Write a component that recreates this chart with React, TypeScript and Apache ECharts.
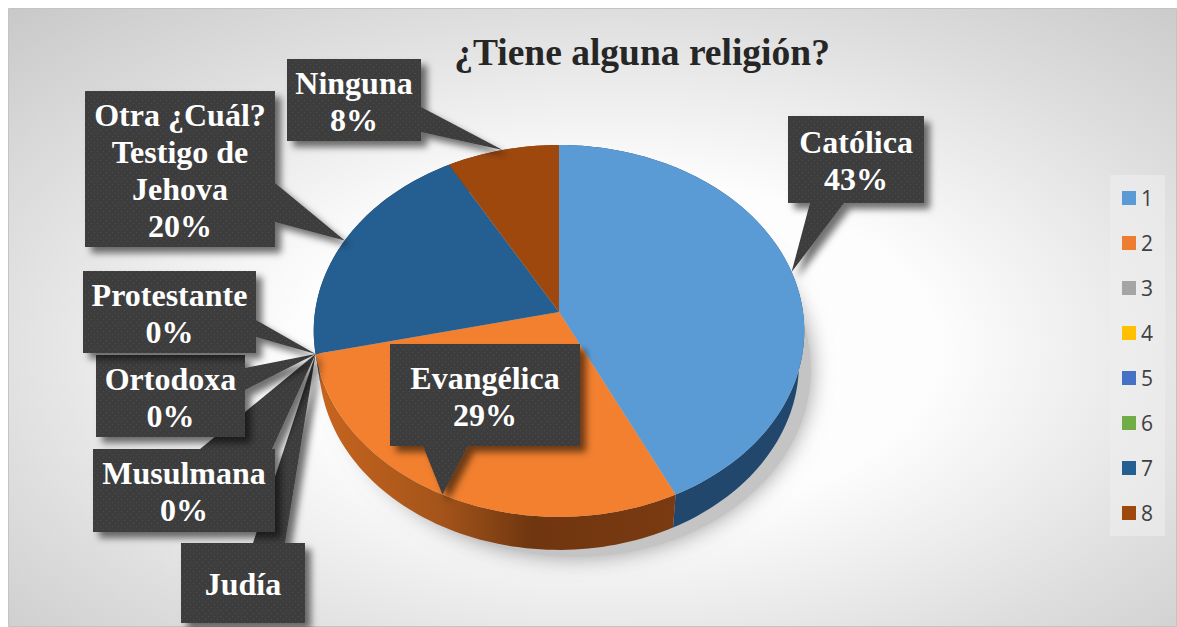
import React, { useEffect, useRef } from "react";
import * as echarts from "echarts";

const legendNames = ["1", "2", "3", "4", "5", "6", "7", "8"];
const responses = [21, 14, 0, 0, 0, 0, 10, 4];
const sliceColors = ["#5b9bd5", "#ed7d31", "#a5a5a5", "#ffc000", "#4472c4", "#70ad47", "#255e91", "#9e480e"];
const labelNames = [
  "Católica",
  "Evangélica",
  "Protestante",
  "Ortodoxa",
  "Musulmana",
  "Judía",
  "Otra ¿Cuál?\nTestigo de\nJehova",
  "Ninguna",
];
const showPercent = [true, true, true, true, true, false, true, true];
const titleText = "¿Tiene alguna religión?";

// Callout layout: box [left, top, right, bottom], tail side, tail base from / to
const calloutLayout: [number, number, number, number, string, number, number][] = [
  [788, 116, 924, 203, "bottom", 810, 844],
  [390, 344, 580, 446, "bottom", 423, 468],
  [83, 271, 256, 353, "right", 320, 337],
  [96, 355, 245, 437, "right", 368, 390],
  [93, 449, 275, 532, "top", 200, 272],
  [181, 543, 305, 623, "top", 253, 285],
  [85, 91, 275, 247, "right", 183, 222],
  [287, 59, 421, 141, "right", 107, 132],
];

const HUB_X = 559;
const HUB_Y = 312;
const RX = 244;
const RY = 184;
const PERSP = 0.102;
const DEPTH = 33;

const total = responses.reduce((a, b) => a + b, 0);

function rim(fraction: number): [number, number] {
  const t = fraction * Math.PI * 2;
  const u = Math.sin(t);
  const v = -Math.cos(t);
  const w = 1 - PERSP * v;
  return [HUB_X + (RX * u) / w, HUB_Y + (RY * v) / w];
}
function arcPoints(a: number, b: number): [number, number][] {
  const n = Math.max(2, Math.ceil((b - a) * 240));
  const pts: [number, number][] = [];
  for (let i = 0; i <= n; i++) pts.push(rim(a + ((b - a) * i) / n));
  return pts;
}
function startFraction(i: number) {
  let s = 0;
  for (let k = 0; k < i; k++) s += responses[k];
  return s / total;
}

function makePattern() {
  const c = document.createElement("canvas");
  c.width = 6;
  c.height = 6;
  const g = c.getContext("2d")!;
  g.fillStyle = "#3e3e3e";
  g.fillRect(0, 0, 6, 6);
  g.fillStyle = "#4e4e4e";
  g.fillRect(1, 1, 1, 1);
  g.fillRect(4, 4, 1, 1);
  return c;
}

const topFill: Record<number, string> = { 1: "#f2802f" };
const wallFill: Record<number, any> = {
  0: "#21486c",
  1: {
    type: "linear",
    x: 0,
    y: 0,
    x2: 1,
    y2: 0,
    colorStops: [
      { offset: 0, color: "#c8651f" },
      { offset: 0.35, color: "#a4541a" },
      { offset: 0.6, color: "#70360f" },
      { offset: 1, color: "#7a3a12" },
    ],
  },
  6: "#1d4a72",
  7: "#7a380b",
};

export default function App() {
  const ref = useRef<HTMLDivElement>(null);
  useEffect(() => {
    const chart = echarts.init(ref.current!, undefined, { renderer: "svg" });
    const pattern = makePattern();

    const sliceSeries = legendNames.map((name, i) => ({
      type: "custom",
      name,
      coordinateSystem: "none",
      z: 3,
      itemStyle: { color: sliceColors[i] },
      data: [{ name, value: responses[i] }],
      renderItem: (_p: any, api: any) => {
        const value = api.value(0) as number;
        if (!value) return { type: "group", children: [] };
        const a = startFraction(i);
        const b = a + value / total;
        const arc = arcPoints(a, b);
        const lower = arc.map(([x, y]) => [HUB_X + (x - HUB_X) * 0.978, y + DEPTH]).reverse();
        return {
          type: "group",
          children: [
            {
              type: "polygon",
              z2: 1,
              shape: { points: [...arc, ...lower] },
              style: { fill: wallFill[i] || sliceColors[i] },
            },
            {
              type: "polygon",
              z2: 10,
              shape: { points: [[HUB_X, HUB_Y], ...arc] },
              style: { fill: topFill[i] || sliceColors[i] },
            },
          ],
        };
      },
    }));

    const calloutSeries = {
      type: "custom",
      name: "etiquetas",
      coordinateSystem: "none",
      z: 6,
      data: labelNames.map((name, i) => ({ name, value: responses[i] })),
      renderItem: (p: any, api: any) => {
        const i = p.dataIndex;
        const value = api.value(0) as number;
        const mid = startFraction(i) + value / total / 2;
        const tip = rim(mid);
        const [l, t, r, bt, side, b1, b2] = calloutLayout[i];
        let pts: number[][];
        if (side === "bottom") {
          pts = [[l, t], [r, t], [r, bt], [b2, bt], tip, [b1, bt], [l, bt]];
        } else if (side === "right") {
          pts = [[l, t], [r, t], [r, b1], tip, [r, b2], [r, bt], [l, bt]];
        } else {
          pts = [[l, t], [b1, t], tip, [b2, t], [r, t], [r, bt], [l, bt]];
        }
        const text = showPercent[i]
          ? `${labelNames[i]}\n${Math.round((value / total) * 100)}%`
          : labelNames[i];
        const z2 = 100 - i * 2;
        return {
          type: "group",
          children: [
            {
              type: "polygon",
              z2,
              shape: { points: pts },
              style: {
                fill: { image: pattern, repeat: "repeat" },
                shadowBlur: 7,
                shadowColor: "rgba(0,0,0,0.55)",
                shadowOffsetX: 6,
                shadowOffsetY: 6,
              },
            },
            {
              type: "text",
              z2: z2 + 1,
              style: {
                x: (l + r) / 2,
                y: (t + bt) / 2 + 1,
                text,
                fill: "#ffffff",
                font: 'bold 32px "Liberation Serif"',
                lineHeight: 37,
                textAlign: "center",
                textVerticalAlign: "middle",
              },
            },
          ],
        };
      },
    };

    chart.setOption({
      animation: false,
      title: {
        text: titleText,
        left: 642,
        top: 33,
        textAlign: "center",
        padding: 0,
        textStyle: {
          fontFamily: "Liberation Serif",
          fontWeight: "bold",
          fontSize: 37.5,
          color: "#262626",
        },
      },
      legend: {
        data: legendNames,
        orient: "vertical",
        left: 1110,
        top: 175,
        icon: "rect",
        itemWidth: 14,
        itemHeight: 14,
        itemGap: 24,
        padding: [12.5, 12, 12.5, 12],
        backgroundColor: "rgba(238,238,238,0.6)",
        textStyle: { fontFamily: "Open Sans", fontSize: 21, color: "#404040", lineHeight: 21 },
      },
      graphic: [
        {
          type: "rect",
          z: 0,
          shape: { x: 8.5, y: 8.5, width: 1168, height: 618 },
          style: {
            stroke: "#c4c4c4",
            lineWidth: 1,
            fill: {
              type: "radial",
              x: 0.52,
              y: 0.55,
              r: 0.78,
              colorStops: [
                { offset: 0, color: "#ffffff" },
                { offset: 0.35, color: "#fdfdfd" },
                { offset: 0.7, color: "#dedede" },
                { offset: 1, color: "#c6c6c6" },
              ],
            },
          },
        },
        {
          type: "ellipse",
          z: 1,
          shape: { cx: 575, cy: 370, rx: 236, ry: 187 },
          style: {
            fill: "#c4c4c4",
            shadowBlur: 22,
            shadowColor: "rgba(140,140,140,0.85)",
            shadowOffsetX: 0,
            shadowOffsetY: 0,
          },
        },
      ],
      series: [...sliceSeries, calloutSeries],
    });
    return () => chart.dispose();
  }, []);
  return (
    <div
      ref={ref}
      style={{ position: "absolute", left: 0, top: 0, width: 1177, height: 627 }}
    />
  );
}
